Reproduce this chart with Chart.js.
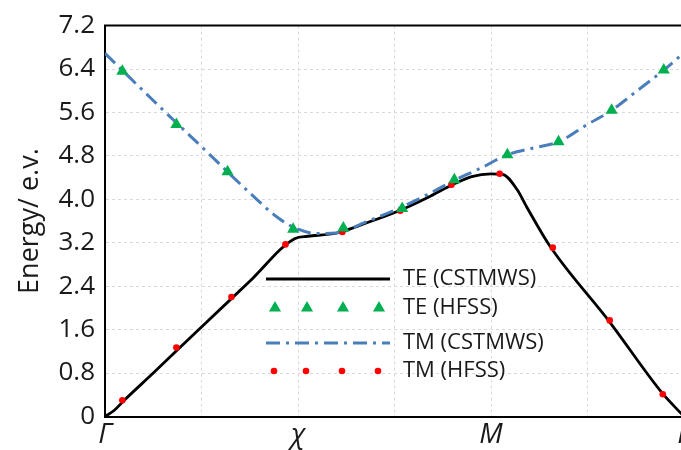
<!DOCTYPE html>
<html>
<head>
<meta charset="utf-8">
<script src="https://cdn.jsdelivr.net/npm/chart.js@4.4.1/dist/chart.umd.min.js"></script>
<style>
  html, body { margin: 0; padding: 0; background: #fff; overflow: hidden; }
  #wrap { width: 681px; height: 450px; overflow: hidden; }
  #box { width: 700px; height: 450px; position: relative; }
</style>
</head>
<body>
<div id="wrap"><div id="box"><canvas id="bandChart"></canvas></div></div>
<script>
// Band diagram values
const xTickLabels = ['Γ', '', 'χ', '', 'M', '', 'Γ'];
const yTickLabels = ['0', '0.8', '1.6', '2.4', '3.2', '4.0', '4.8', '5.6', '6.4', '7.2'];
const seriesNames = ['TE (CSTMWS)', 'TE (HFSS)', 'TM (CSTMWS)', 'TM (HFSS)'];

// TE (CSTMWS) solid black line
const teLineX = [0, 0.1, 0.2, 0.5, 1.0, 1.5, 1.97, 2.1, 2.4, 2.7, 3.06, 3.35, 3.6, 3.8, 4.0, 4.12, 4.27, 4.37, 4.61, 5.23, 5.78, 6.0];
const teLineY = [0, 0.12, 0.30, 0.80, 1.65, 2.49, 3.28, 3.32, 3.38, 3.56, 3.80, 4.04, 4.27, 4.42, 4.47, 4.46, 4.18, 3.86, 3.14, 1.74, 0.42, 0];

// TE (HFSS) green triangles
const teHfssX = [0.18, 0.74, 1.27, 1.95, 2.47, 3.08, 3.62, 4.17, 4.70, 5.25, 5.79];
const teHfssY = [6.36, 5.38, 4.51, 3.45, 3.47, 3.83, 4.36, 4.82, 5.06, 5.64, 6.38];

// TM (CSTMWS) blue dash-dot line
const tmLineX = [0, 0.5, 1.0, 1.5, 1.8, 2.0, 2.2, 2.4, 2.7, 3.0, 3.3, 3.6, 3.9, 4.17, 4.45, 4.7, 5.0, 5.25, 5.5, 5.79, 6.0];
const tmLineY = [6.69, 5.82, 4.97, 4.12, 3.65, 3.45, 3.37, 3.38, 3.58, 3.80, 4.05, 4.33, 4.58, 4.82, 4.95, 5.06, 5.38, 5.64, 5.98, 6.38, 6.70];

// TM (HFSS) red dots
const tmHfssX = [0.18, 0.74, 1.31, 1.87, 2.46, 3.06, 3.59, 4.09, 4.64, 5.23, 5.78];
const tmHfssY = [0.30, 1.27, 2.20, 3.17, 3.40, 3.79, 4.27, 4.47, 3.11, 1.77, 0.41];

const pairs = (xs, ys) => xs.map((x, i) => ({ x: x, y: ys[i] }));

const FONT = '"Open Sans", sans-serif';
const BLUE = '#4A7EBB';
const GREEN = '#00B050';
const RED = '#FF0000';
const DASHDOT = [14, 6, 3, 6];

// frame top edge + hand drawn legend inside the plot
const legendPlugin = {
  id: 'bandLegend',
  afterDraw(chart) {
    const { ctx, chartArea } = chart;
    ctx.save();
    ctx.strokeStyle = '#000';
    ctx.lineWidth = 2;
    ctx.beginPath();
    ctx.moveTo(chartArea.left - 1, chartArea.top);
    ctx.lineTo(chartArea.right, chartArea.top);
    ctx.stroke();

    const x0 = 266, x1 = 390, textX = 403;
    const rows = [279, 308, 343, 371];
    const marks = [275, 307, 343, 379];

    ctx.lineWidth = 3;
    ctx.strokeStyle = '#000';
    ctx.beginPath(); ctx.moveTo(x0, rows[0]); ctx.lineTo(x1, rows[0]); ctx.stroke();

    ctx.fillStyle = GREEN;
    marks.forEach(mx => Chart.helpers.drawPoint(ctx, { pointStyle: 'triangle', radius: 7, rotation: 0, borderWidth: 0 }, mx, rows[1]));

    ctx.strokeStyle = BLUE;
    ctx.setLineDash(DASHDOT);
    ctx.beginPath(); ctx.moveTo(x0, rows[2]); ctx.lineTo(x1, rows[2]); ctx.stroke();
    ctx.setLineDash([]);

    ctx.fillStyle = RED;
    marks.forEach(mx => { ctx.beginPath(); ctx.arc(mx - 1, rows[3], 3.3, 0, Math.PI * 2); ctx.fill(); });

    ctx.fillStyle = '#1a1a1a';
    ctx.font = '22px ' + FONT;
    ctx.textBaseline = 'middle';
    ctx.textAlign = 'left';
    seriesNames.forEach((name, i) => ctx.fillText(name, textX, rows[i]));
    ctx.restore();
  }
};

const ctx = document.getElementById('bandChart').getContext('2d');
new Chart(ctx, {
  type: 'line',
  data: {
    datasets: [{
      label: seriesNames[1],
      data: pairs(teHfssX, teHfssY),
      showLine: false,
      pointStyle: 'triangle',
      pointRadius: 7,
      pointBorderWidth: 0,
      pointBackgroundColor: GREEN,
      order: 0
    }, {
      label: seriesNames[3],
      data: pairs(tmHfssX, tmHfssY),
      showLine: false,
      pointStyle: 'circle',
      pointRadius: 3.3,
      pointBorderWidth: 0,
      pointBackgroundColor: RED,
      order: 0
    }, {
      label: seriesNames[0],
      data: pairs(teLineX, teLineY),
      borderColor: '#000',
      borderWidth: 2.8,
      pointRadius: 0,
      cubicInterpolationMode: 'monotone',
      order: 2
    }, {
      label: seriesNames[2],
      data: pairs(tmLineX, tmLineY),
      borderColor: BLUE,
      borderWidth: 3,
      borderDash: DASHDOT,
      pointRadius: 0,
      cubicInterpolationMode: 'monotone',
      order: 1
    }]
  },
  options: {
    responsive: true,
    maintainAspectRatio: false,
    animation: false,
    layout: { padding: { top: 23, right: 16, left: 0, bottom: 0 } },
    plugins: {
      legend: { display: false },
      tooltip: { enabled: false }
    },
    scales: {
      x: {
        type: 'linear',
        min: 0,
        max: 6,
        afterFit: s => { s.height = 33.5; },
        ticks: {
          stepSize: 1,
          padding: 2,
          autoSkip: false,
          maxRotation: 0,
          color: '#1a1a1a',
          font: { family: FONT, size: 28, style: 'italic' },
          callback: (v) => xTickLabels[Math.round(v)] || ''
        },
        grid: { color: '#d9d9d9', drawTicks: false },
        border: { color: '#000', width: 2, dash: [3, 3] }
      },
      y: {
        min: 0,
        max: 7.2,
        afterFit: s => { s.width = 105; },
        ticks: {
          stepSize: 0.8,
          padding: 10,
          color: '#1a1a1a',
          font: { family: FONT, size: 26 },
          callback: (v, i) => yTickLabels[i]
        },
        grid: { color: '#d9d9d9', drawTicks: false },
        border: { color: '#000', width: 2, dash: [3, 3] },
        title: {
          display: true,
          text: 'Energy/ e.v.',
          color: '#1a1a1a',
          font: { family: FONT, size: 27 },
          padding: { top: 14, bottom: 0 }
        }
      }
    }
  },
  plugins: [legendPlugin]
});
</script>
</body>
</html>
